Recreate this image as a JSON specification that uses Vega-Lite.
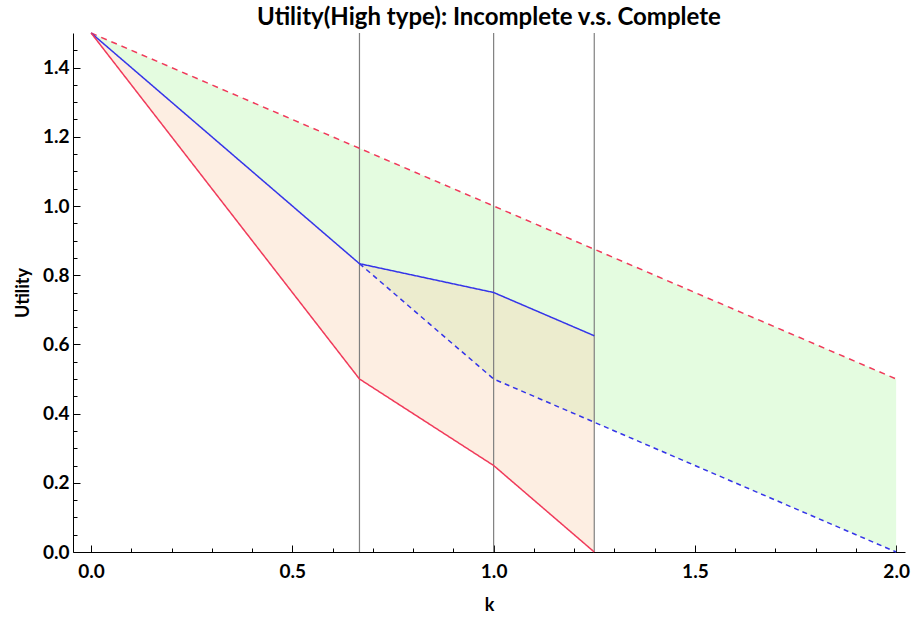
{
  "$schema": "https://vega.github.io/schema/vega-lite/v6.json",
  "width": 832,
  "height": 519,
  "autosize": {"type": "none"},
  "padding": {"left": 73, "top": 33, "right": 6, "bottom": 66},
  "background": "white",
  "title": {
    "text": "Utility(High type): Incomplete v.s. Complete",
    "font": "Lato",
    "fontSize": 24,
    "fontWeight": "bold",
    "color": "black",
    "anchor": "middle",
    "baseline": "alphabetic",
    "offset": 8,
    "dy": 27
  },
  "config": {
    "view": {"stroke": null},
    "axis": {
      "labelFont": "Lato",
      "titleFont": "Lato",
      "labelFontSize": 19,
      "titleFontSize": 18,
      "labelFontWeight": "bold",
      "titleFontWeight": "bold",
      "labelColor": "black",
      "titleColor": "black",
      "domainColor": "black",
      "tickColor": "black",
      "grid": false
    }
  },
  "datasets": {
    "green": [
      {"k": 0, "upper": 1.5, "lower": 1.5},
      {"k": 0.6667, "upper": 1.1667, "lower": 0.8333},
      {"k": 1, "upper": 1.0, "lower": 0.5},
      {"k": 1.25, "upper": 0.875, "lower": 0.375},
      {"k": 2, "upper": 0.5, "lower": 0}
    ],
    "orange": [
      {"k": 0, "upper": 1.5, "lower": 1.5},
      {"k": 0.6667, "upper": 0.8333, "lower": 0.5},
      {"k": 1, "upper": 0.75, "lower": 0.25},
      {"k": 1.25, "upper": 0.625, "lower": 0}
    ],
    "lines": [
      {"k": 0, "u": 1.5, "series": "redDashed"},
      {"k": 2, "u": 0.5, "series": "redDashed"},
      {"k": 0, "u": 1.5, "series": "blueSolid"},
      {"k": 0.6667, "u": 0.8333, "series": "blueSolid"},
      {"k": 1, "u": 0.75, "series": "blueSolid"},
      {"k": 1.25, "u": 0.625, "series": "blueSolid"},
      {"k": 0.6667, "u": 0.8333, "series": "blueDashed"},
      {"k": 1, "u": 0.5, "series": "blueDashed"},
      {"k": 1.25, "u": 0.375, "series": "blueDashed"},
      {"k": 2, "u": 0, "series": "blueDashed"},
      {"k": 0, "u": 1.5, "series": "redSolid"},
      {"k": 0.6667, "u": 0.5, "series": "redSolid"},
      {"k": 1, "u": 0.25, "series": "redSolid"},
      {"k": 1.25, "u": 0, "series": "redSolid"}
    ],
    "vlines": [
      {"k": 0.6667},
      {"k": 1},
      {"k": 1.25}
    ]
  },
  "resolve": {"axis": {"x": "independent", "y": "independent"}},
  "layer": [
    {
      "data": {"name": "green"},
      "mark": {"type": "area", "color": "#e4fce0"},
      "encoding": {
        "x": {
          "field": "k", "type": "quantitative",
          "scale": {"domain": [-0.045, 2.022], "nice": false, "zero": false},
          "axis": {
            "orient": "bottom",
            "values": [0, 0.5, 1, 1.5, 2],
            "format": ".1f",
            "title": "k",
            "tickSize": -7,
            "labelPadding": 17,
            "titlePadding": 15
          }
        },
        "y": {
          "field": "upper", "type": "quantitative",
          "scale": {"domain": [0, 1.5], "nice": false},
          "axis": {
            "orient": "left",
            "values": [0, 0.2, 0.4, 0.6, 0.8, 1.0, 1.2, 1.4],
            "format": ".1f",
            "title": "Utility",
            "tickSize": -7,
            "labelPadding": 11,
            "titlePadding": 10
          }
        },
        "y2": {"field": "lower"}
      }
    },
    {
      "data": {"name": "orange"},
      "mark": {"type": "area", "color": "#fad1b1", "opacity": 0.37},
      "encoding": {
        "x": {
          "field": "k", "type": "quantitative",
          "axis": {
            "orient": "bottom",
            "values": [0.1, 0.2, 0.3, 0.4, 0.6, 0.7, 0.8, 0.9, 1.1, 1.2, 1.3, 1.4, 1.6, 1.7, 1.8, 1.9],
            "labels": false,
            "domain": false,
            "title": null,
            "tickSize": -4
          }
        },
        "y": {
          "field": "upper", "type": "quantitative",
          "axis": {
            "orient": "left",
            "values": [0.05, 0.1, 0.15, 0.25, 0.3, 0.35, 0.45, 0.5, 0.55, 0.65, 0.7, 0.75, 0.85, 0.9, 0.95, 1.05, 1.1, 1.15, 1.25, 1.3, 1.35, 1.45],
            "labels": false,
            "domain": false,
            "title": null,
            "tickSize": -4
          }
        },
        "y2": {"field": "lower"}
      }
    },
    {
      "data": {"name": "vlines"},
      "mark": {"type": "rule", "color": "#808080", "strokeWidth": 1.2},
      "encoding": {
        "x": {"field": "k", "type": "quantitative", "axis": null}
      }
    },
    {
      "data": {"name": "lines"},
      "mark": {"type": "line", "strokeWidth": 1.5},
      "encoding": {
        "x": {"field": "k", "type": "quantitative", "axis": null},
        "y": {"field": "u", "type": "quantitative", "axis": null},
        "detail": {"field": "series"},
        "color": {
          "field": "series", "type": "nominal", "legend": null,
          "scale": {"domain": ["redDashed", "blueSolid", "blueDashed", "redSolid"], "range": ["#f03a5a", "#3535e8", "#3535e8", "#f03a5a"]}
        },
        "strokeDash": {
          "field": "series", "type": "nominal", "legend": null,
          "scale": {"domain": ["redDashed", "blueSolid", "blueDashed", "redSolid"], "range": [[6, 5], [1, 0], [5, 4], [1, 0]]}
        }
      }
    }
  ]
}
